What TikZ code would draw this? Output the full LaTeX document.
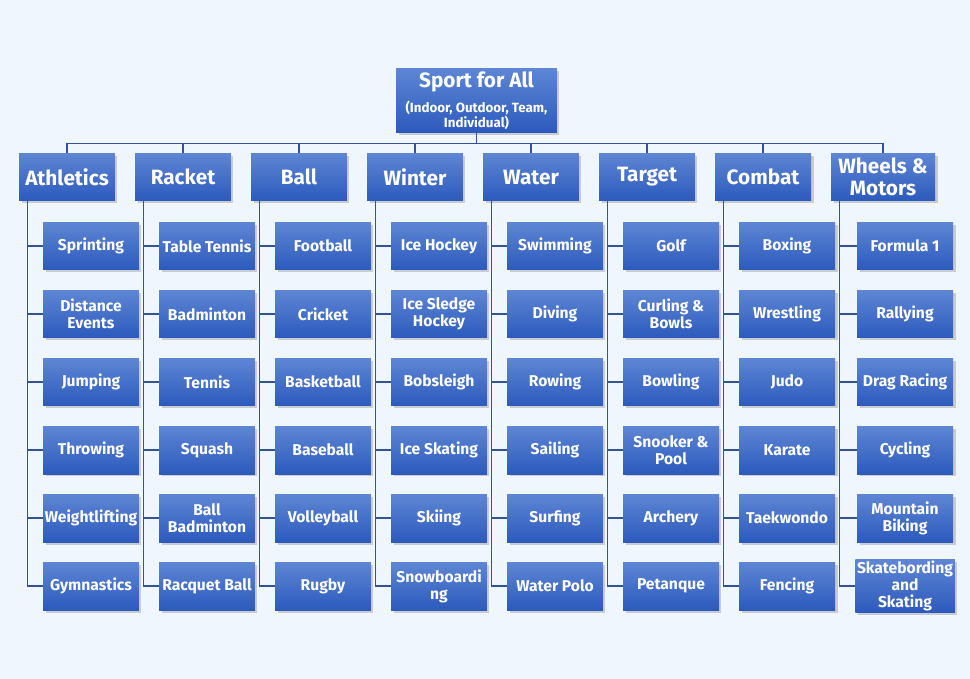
\documentclass[tikz,border=0pt]{standalone}
\usepackage{fontspec}
\setmainfont{Fira Sans}
\usetikzlibrary{shadows}
\definecolor{bg}{RGB}{240,246,253}
\definecolor{c1}{RGB}{94,134,212}
\definecolor{c2}{RGB}{44,90,189}
\definecolor{ln}{RGB}{52,82,150}

\begin{document}
\begin{tikzpicture}[x=0.02cm,y=-0.02cm,
    box/.style={top color=c1,bottom color=c2,text=white,align=center,inner sep=1pt,
        drop shadow={shadow xshift=0.05cm,shadow yshift=-0.05cm,opacity=0.35}},
    cat/.style={box,minimum width=1.92cm,minimum height=0.96cm,font=\fontsize{11.8}{12.5}\selectfont\bfseries},
    leaf/.style={box,minimum width=1.92cm,minimum height=0.96cm,font=\fontsize{8.9}{9.6}\selectfont\bfseries},
    link/.style={draw=ln,line width=0.6pt}]
    \fill[bg] (0,0) rectangle (970,679);
    \useasboundingbox (0,0) rectangle (970,679);

    % top box
    \node[box,minimum width=3.22cm,minimum height=1.3cm,inner sep=0pt,font=\fontsize{7.6}{8.2}\selectfont\bfseries] (root) at (476.5,100.5)
        {{\fontsize{11.8}{13}\selectfont Sport for All}\\[4.5pt]
         (Indoor, Outdoor, Team,\\Individual)};

    % categories
    \node[cat] (ath) at (67,177) {Athletics};
    \node[cat] (rac) at (183,177) {Racket};
    \node[cat] (bal) at (299,177) {Ball};
    \node[cat] (win) at (415,177) {Winter};
    \node[cat] (wat) at (531,177) {Water};
    \node[cat] (tar) at (647,177) {Target};
    \node[cat] (com) at (763,177) {Combat};
    \node[cat,minimum width=2.08cm] (whe) at (883,177) {Wheels \&\\Motors};

    \foreach \c in {ath,rac,bal,win,wat,tar,com,whe}
        \draw[link] (root.south) -- ++(0,10) -| (\c.north);

    \begin{scope} %athletics
        \node[leaf] (ath1) at (91,246) {Sprinting};
        \node[leaf] (ath2) at (91,314) {Distance\\Events};
        \node[leaf] (ath3) at (91,382) {Jumping};
        \node[leaf] (ath4) at (91,450) {Throwing};
        \node[leaf] (ath5) at (91,518) {Weightlifting};
        \node[leaf] (ath6) at (91,586) {Gymnastics};
        \coordinate (athS) at ([xshift=0.18cm]ath.south west);
        \foreach \i in {1,...,6} \draw[link] (athS) |- (ath\i.west);
    \end{scope}
    \begin{scope}[shift={(116,0)}] %racket
        \node[leaf] (rac1) at (91,246) {Table Tennis};
        \node[leaf] (rac2) at (91,314) {Badminton};
        \node[leaf] (rac3) at (91,382) {Tennis};
        \node[leaf] (rac4) at (91,450) {Squash};
        \node[leaf] (rac5) at (91,518) {Ball\\Badminton};
        \node[leaf] (rac6) at (91,586) {Racquet Ball};
        \coordinate (racS) at ([xshift=0.18cm]rac.south west);
        \foreach \i in {1,...,6} \draw[link] (racS) |- (rac\i.west);
    \end{scope}
    \begin{scope}[shift={(232,0)}] %ball
        \node[leaf] (bal1) at (91,246) {Football};
        \node[leaf] (bal2) at (91,314) {Cricket};
        \node[leaf] (bal3) at (91,382) {Basketball};
        \node[leaf] (bal4) at (91,450) {Baseball};
        \node[leaf] (bal5) at (91,518) {Volleyball};
        \node[leaf] (bal6) at (91,586) {Rugby};
        \coordinate (balS) at ([xshift=0.18cm]bal.south west);
        \foreach \i in {1,...,6} \draw[link] (balS) |- (bal\i.west);
    \end{scope}
    \begin{scope}[shift={(348,0)}] %winter
        \node[leaf] (win1) at (91,246) {Ice Hockey};
        \node[leaf] (win2) at (91,314) {Ice Sledge\\Hockey};
        \node[leaf] (win3) at (91,382) {Bobsleigh};
        \node[leaf] (win4) at (91,450) {Ice Skating};
        \node[leaf] (win5) at (91,518) {Skiing};
        \node[leaf] (win6) at (91,586) {Snowboardi\\ng};
        \coordinate (winS) at ([xshift=0.18cm]win.south west);
        \foreach \i in {1,...,6} \draw[link] (winS) |- (win\i.west);
    \end{scope}
    \begin{scope}[shift={(464,0)}] %water
        \node[leaf] (wat1) at (91,246) {Swimming};
        \node[leaf] (wat2) at (91,314) {Diving};
        \node[leaf] (wat3) at (91,382) {Rowing};
        \node[leaf] (wat4) at (91,450) {Sailing};
        \node[leaf] (wat5) at (91,518) {Surfing};
        \node[leaf] (wat6) at (91,586) {Water Polo};
        \coordinate (watS) at ([xshift=0.18cm]wat.south west);
        \foreach \i in {1,...,6} \draw[link] (watS) |- (wat\i.west);
    \end{scope}
    \begin{scope}[shift={(580,0)}] %target
        \node[leaf] (tar1) at (91,246) {Golf};
        \node[leaf] (tar2) at (91,314) {Curling \&\\Bowls};
        \node[leaf] (tar3) at (91,382) {Bowling};
        \node[leaf] (tar4) at (91,450) {Snooker \&\\Pool};
        \node[leaf] (tar5) at (91,518) {Archery};
        \node[leaf] (tar6) at (91,586) {Petanque};
        \coordinate (tarS) at ([xshift=0.18cm]tar.south west);
        \foreach \i in {1,...,6} \draw[link] (tarS) |- (tar\i.west);
    \end{scope}
    \begin{scope}[shift={(696,0)}] %combat
        \node[leaf] (com1) at (91,246) {Boxing};
        \node[leaf] (com2) at (91,314) {Wrestling};
        \node[leaf] (com3) at (91,382) {Judo};
        \node[leaf] (com4) at (91,450) {Karate};
        \node[leaf] (com5) at (91,518) {Taekwondo};
        \node[leaf] (com6) at (91,586) {Fencing};
        \coordinate (comS) at ([xshift=0.18cm]com.south west);
        \foreach \i in {1,...,6} \draw[link] (comS) |- (com\i.west);
    \end{scope}
    \begin{scope}[shift={(814,0)}] %wheels and motors
        \node[leaf] (whe1) at (91,246) {Formula 1};
        \node[leaf] (whe2) at (91,314) {Rallying};
        \node[leaf] (whe3) at (91,382) {Drag Racing};
        \node[leaf] (whe4) at (91,450) {Cycling};
        \node[leaf] (whe5) at (91,518) {Mountain\\Biking};
        \node[leaf] (whe6) at (91,586) {Skatebording\\and\\Skating};
        \coordinate (wheS) at ([xshift=0.18cm]whe.south west);
        \foreach \i in {1,...,6} \draw[link] (wheS) |- (whe\i.west);
    \end{scope}

\end{tikzpicture}
\end{document}
